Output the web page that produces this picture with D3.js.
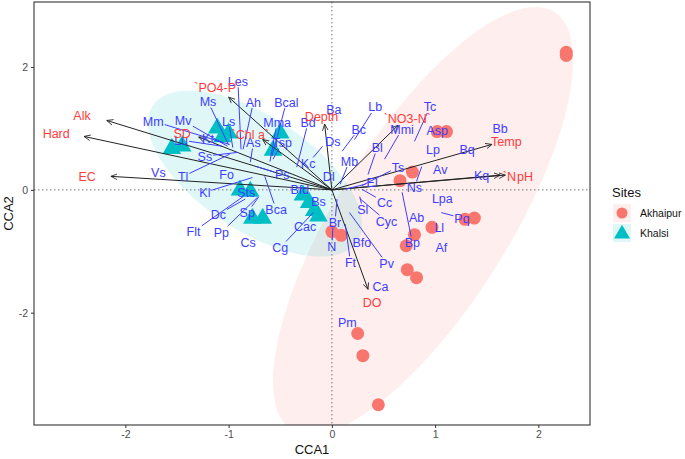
<!DOCTYPE html>
<html><head><meta charset="utf-8">
<script src="https://cdn.jsdelivr.net/npm/d3@7"></script>
<style>body{margin:0;background:#fff}text{font-family:"Liberation Sans",Arial,sans-serif}</style>
</head><body><svg id="c" width="685" height="459"></svg>
<script>
// ---- site scores ----
const akhX = [2.27,2.27,1.02,1.11,0.66,0.78,0.00,0.09,0.80,0.72,0.97,1.29,1.38,0.73,0.82,0.25,0.30,0.45];
const akhY = [2.24,2.19,0.95,0.95,0.15,0.29,-0.68,-0.74,-0.73,-0.91,-0.61,-0.48,-0.46,-1.30,-1.43,-2.34,-2.70,-3.50];
const khaX = [-1.55,-1.45,-1.11,-1.00,-1.06,-0.50,-0.57,-0.89,-0.79,-0.77,-0.67,-0.28,-0.22,-0.17,-0.13];
const khaY = [0.69,0.73,1.02,0.94,0.88,0.94,0.66,0.01,-0.01,-0.45,-0.45,-0.07,-0.19,-0.32,-0.41];
// ---- environmental vectors ----
const envNames = ["Alk","Hard","EC","`PO4-P`","SD","`Chl a`","Depth","`NO3-N`","Temp","`N","pH","DO"];
const envX = [-2.18,-2.40,-2.14,-1.00,-1.29,-0.67,-0.07,0.64,1.55,1.63,1.68,0.35];
const envY = [1.13,0.87,0.22,1.51,0.86,0.82,1.07,1.05,0.74,0.24,0.24,-1.62];
const envLabX = [-2.42,-2.67,-2.37,-1.11,-1.45,-0.79,-0.10,0.73,1.69,1.72,1.87,0.39];
const envLabY = [1.21,0.92,0.22,1.66,0.92,0.90,1.19,1.16,0.79,0.22,0.22,-1.83];
// ---- species: name, score (x,y), label position ----
const spNames = ["Mm","Mv","Ms","Les","Ls","Ah","Bcal","Mma","Kt","Lu","As","Tsp","Ss","Tl","Vs","Fo","Kl","Sts","Dc","Flt","Pp","Sp","Bca","Cs","Cg","Cac","Ps","Kc","Bd","Bfd","Bs","Dl","Ds","Ba","Br","N","Mb","Lb","Bc","Bl","Mmi","Tc","Asp","Lp","Bq","Bb","Ts","Av","El","Ns","Kq","Lpa","Pq","Ab","Ll","Bp","Af","Cc","Sl","Cyc","Bfo","Ft","Pv","Ca","Pm"];
const spX = [-1.05,-1.01,-1.00,-0.88,-0.96,-0.86,-0.58,-0.60,-0.99,-1.06,-0.79,-0.57,-0.91,-0.99,-1.68,-1.02,-0.77,-0.83,-0.84,-0.86,-0.72,-0.71,-0.65,-0.81,-0.18,-0.26,-0.73,-0.09,-0.34,-0.31,-0.13,-0.03,0.01,0.02,0.05,0.01,0.08,0.22,0.10,0.35,0.51,0.80,1.02,0.98,1.31,1.63,0.29,1.05,0.13,0.87,1.45,1.07,1.06,0.82,1.04,0.68,1.06,0.29,0.27,0.27,0.29,0.13,0.17,0.47,0.15];
const spY = [0.77,0.71,0.73,0.66,0.69,0.66,0.55,0.46,0.74,0.71,0.45,0.50,0.61,0.58,0.29,0.25,0.20,-0.04,-0.15,-0.11,-0.12,-0.12,0.22,-0.86,-0.37,-0.60,0.38,0.71,0.37,0.01,-0.19,0.22,0.79,1.31,-0.15,-0.61,0.09,0.82,0.63,0.25,0.50,0.79,0.97,0.66,0.66,1.00,0.07,0.33,0.01,0.38,0.24,-0.14,-0.37,-0.45,-0.61,-0.04,-0.94,0.01,-0.11,-0.14,-0.86,-0.56,-0.37,-1.57,-2.16];
const spLabX = [-1.73,-1.44,-1.20,-0.91,-1.00,-0.76,-0.44,-0.53,-1.20,-1.46,-0.76,-0.48,-1.23,-1.44,-1.68,-1.02,-1.23,-0.83,-1.10,-1.34,-1.07,-0.82,-0.54,-0.81,-0.50,-0.26,-0.48,-0.23,-0.23,-0.31,-0.13,-0.03,0.01,0.02,0.03,0.00,0.17,0.42,0.26,0.44,0.68,0.95,1.02,0.98,1.31,1.63,0.64,1.05,0.39,0.80,1.45,1.07,1.26,0.82,1.04,0.78,1.06,0.51,0.30,0.53,0.29,0.18,0.53,0.47,0.15];
const spLabY = [1.12,1.13,1.44,1.77,1.12,1.43,1.43,1.10,0.84,0.81,0.77,0.77,0.55,0.22,0.29,0.25,-0.04,-0.04,-0.40,-0.68,-0.69,-0.37,-0.32,-0.86,-0.94,-0.60,0.25,0.43,1.10,0.01,-0.19,0.22,0.79,1.31,-0.53,-0.92,0.47,1.35,0.99,0.69,0.99,1.35,0.97,0.66,0.66,1.00,0.37,0.33,0.12,0.04,0.24,-0.14,-0.46,-0.45,-0.61,-0.86,-0.94,-0.20,-0.32,-0.51,-0.86,-1.18,-1.20,-1.57,-2.16];
const xTicks = [-2,-1,0,1,2];
const yTicks = [-2,0,2];
const siteNames = ["Akhaipur","Khalsi"];
const siteColors = ["#F8766D","#00BFC4"];
const ellipseLevel = 0.9;

const svg = d3.select("#c");
const L=34,R=590,T=2,B=425;
const x = d3.scaleLinear().domain([-2.885,2.50]).range([L,R]);
const y = d3.scaleLinear().domain([-3.83,3.06]).range([B,T]);

svg.append("defs").append("clipPath").attr("id","clip").append("rect")
  .attr("x",L).attr("y",T).attr("width",R-L).attr("height",B-T);
svg.select("defs").append("marker").attr("id","ah").attr("viewBox","0 0 10 10")
  .attr("refX",9).attr("refY",5).attr("markerWidth",7).attr("markerHeight",7)
  .attr("markerUnits","userSpaceOnUse").attr("orient","auto")
  .append("path").attr("d","M0,1 L9,5 L0,9").attr("fill","none").attr("stroke","#222").attr("stroke-width",1.2);

const panel = svg.append("g").attr("clip-path","url(#clip)");

// normal data ellipse (F-based radius, as ggplot2 stat_ellipse type "norm")
function ellipse(xs, ys, level){
  const n=xs.length, mx=d3.mean(xs), my=d3.mean(ys), d=n-1;
  let sxx=0,syy=0,sxy=0;
  for(let i=0;i<n;i++){const dx=xs[i]-mx,dy=ys[i]-my;sxx+=dx*dx;syy+=dy*dy;sxy+=dx*dy;}
  sxx/=d;syy/=d;sxy/=d;
  const r=Math.sqrt(d*(Math.pow(1-level,-2/d)-1));
  const a=Math.sqrt(sxx), b=sxy/a, e=Math.sqrt(syy-b*b);
  const pts=[];
  for(let k=0;k<=120;k++){
    const t=2*Math.PI*k/120, u=r*Math.cos(t), v=r*Math.sin(t);
    pts.push([x(mx+u*a), y(my+u*b+v*e)]);
  }
  return pts;
}
[[akhX,akhY,0],[khaX,khaY,1]].forEach(([xs,ys,i])=>{
  panel.append("path").attr("d",d3.line()(ellipse(xs,ys,ellipseLevel))+"Z")
    .attr("fill",siteColors[i]).attr("fill-opacity",0.12).attr("stroke","none");
});

// reference lines
panel.append("line").attr("x1",L).attr("x2",R).attr("y1",y(0)).attr("y2",y(0))
  .attr("stroke","#777").attr("stroke-dasharray","1.5,2.5").attr("stroke-width",1);
panel.append("line").attr("y1",T).attr("y2",B).attr("x1",x(0)).attr("x2",x(0))
  .attr("stroke","#777").attr("stroke-dasharray","1.5,2.5").attr("stroke-width",1);

// site points
panel.selectAll(".akh").data(akhX).join("circle").attr("cx",d=>x(d)).attr("cy",(d,i)=>y(akhY[i]))
  .attr("r",6.5).attr("fill",siteColors[0]);
const tri = d3.symbol().type(d3.symbolTriangle).size(150);
panel.selectAll(".kha").data(khaX).join("path").attr("d",tri)
  .attr("transform",(d,i)=>`translate(${x(d)},${y(khaY[i])+1})`).attr("fill",siteColors[1]);

// env arrows
panel.selectAll(".arr").data(envX).join("line")
  .attr("x1",x(0)).attr("y1",y(0)).attr("x2",d=>x(d)).attr("y2",(d,i)=>y(envY[i]))
  .attr("stroke","#222").attr("stroke-width",1).attr("marker-end","url(#ah)");

// species labels with segments
const spCol = "#3D3DFF";
const segG = panel.append("g");
const labG = panel.append("g");
spNames.forEach((nm,i)=>{
  const lx=x(spLabX[i]), ly=y(spLabY[i]);
  const t = labG.append("text").attr("x",lx).attr("y",ly).attr("dy","0.36em")
    .attr("text-anchor","middle").attr("font-size",12.5).attr("fill",spCol).text(nm);
  const bb = t.node().getBBox();
  const px=x(spX[i]), py=y(spY[i]);
  const hw=bb.width/2+1, hh=bb.height/2-1;
  const dx=px-lx, dy=py-ly;
  if(Math.abs(dx)<=hw && Math.abs(dy)<=hh) return;
  const s = Math.min(Math.abs(dx)>0?hw/Math.abs(dx):Infinity, Math.abs(dy)>0?hh/Math.abs(dy):Infinity);
  segG.append("line").attr("x1",lx+dx*s).attr("y1",ly+dy*s).attr("x2",px).attr("y2",py)
    .attr("stroke",spCol).attr("stroke-width",1);
});

// env labels
panel.selectAll(".envl").data(envNames).join("text")
  .attr("x",(d,i)=>x(envLabX[i])).attr("y",(d,i)=>y(envLabY[i])).attr("dy","0.36em")
  .attr("text-anchor","middle").attr("font-size",12.5).attr("fill","#FF3B3B").text(d=>d);

// panel border
svg.append("rect").attr("x",L).attr("y",T).attr("width",R-L).attr("height",B-T)
  .attr("fill","none").attr("stroke","#333").attr("stroke-width",1.1);

// axes
const xa = svg.append("g").attr("transform",`translate(0,${B})`)
  .call(d3.axisBottom(x).tickValues(xTicks).tickSize(3).tickPadding(3).tickFormat(d=>String(d)));
const ya = svg.append("g").attr("transform",`translate(${L},0)`)
  .call(d3.axisLeft(y).tickValues(yTicks).tickSize(3).tickPadding(3).tickFormat(d=>String(d)));
[xa,ya].forEach(a=>{a.select(".domain").remove();
  a.selectAll("line").attr("stroke","#333");
  a.selectAll("text").attr("fill","#4D4D4D").attr("font-size",10.5).attr("font-family","Liberation Sans, Arial, sans-serif");});

svg.append("text").attr("x",(L+R)/2).attr("y",454).attr("text-anchor","middle")
  .attr("font-size",13).attr("fill","#111").text("CCA1");
svg.append("text").attr("transform",`translate(13,${(T+B)/2}) rotate(-90)`).attr("text-anchor","middle")
  .attr("font-size",13).attr("fill","#111").text("CCA2");

// legend
const lg = svg.append("g");
lg.append("text").attr("x",612).attr("y",197).attr("font-size",13).attr("fill","#111").text("Sites");
siteNames.forEach((nm,i)=>{
  const cy = 213+i*20;
  lg.append("rect").attr("x",613).attr("y",cy-9).attr("width",18).attr("height",18)
    .attr("fill",siteColors[i]).attr("fill-opacity",0.12);
  if(i===0) lg.append("circle").attr("cx",622).attr("cy",cy).attr("r",5.5).attr("fill",siteColors[0]);
  else lg.append("path").attr("d",d3.symbol().type(d3.symbolTriangle).size(110)).attr("transform",`translate(622,${cy+1})`).attr("fill",siteColors[1]);
  lg.append("text").attr("x",640).attr("y",cy).attr("dy","0.35em").attr("font-size",10.5).attr("fill","#111").text(nm);
});
</script></body></html>
